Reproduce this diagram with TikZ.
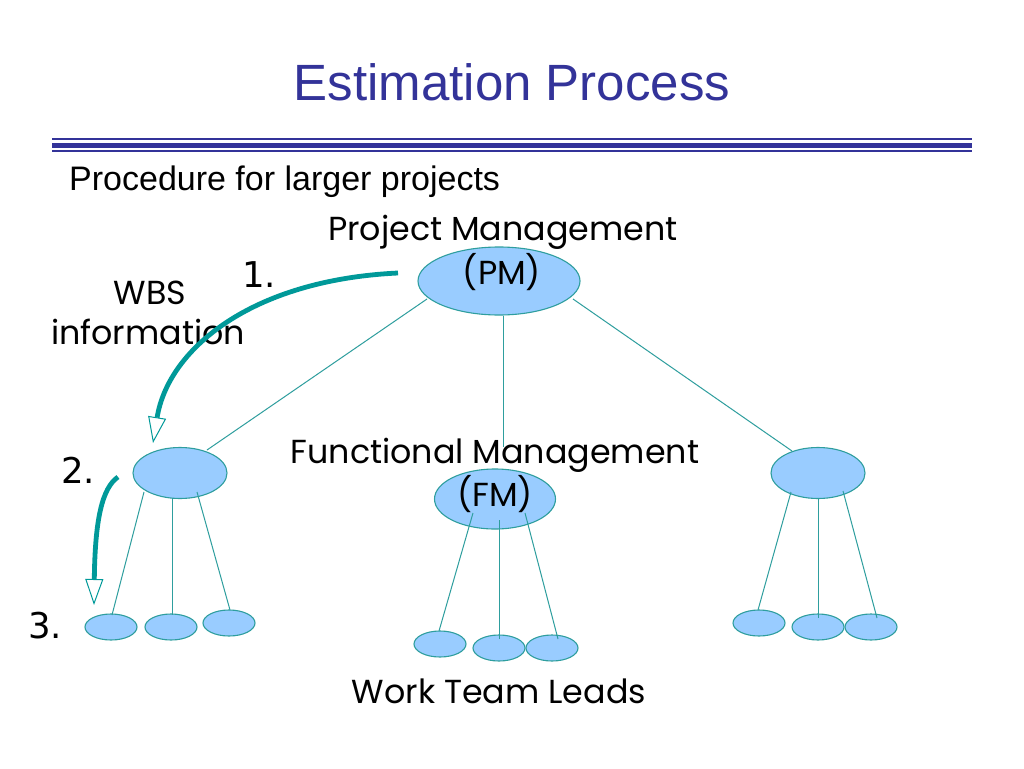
\documentclass[tikz,border=0pt]{standalone}
\usepackage{fontspec}
\setmainfont{Liberation Sans}
\newfontfamily\gothic{Poppins}
\newfontfamily\verd{DejaVu Sans}
\usetikzlibrary{arrows.meta,shapes.geometric,calc}
\definecolor{titleblue}{HTML}{333399}
\definecolor{ellfill}{HTML}{99CCFF}
\definecolor{tealline}{HTML}{2E9E9E}
\definecolor{arrowteal}{HTML}{009999}
\begin{document}
\begin{tikzpicture}[x=1pt,y=-1pt,
  ell/.style n args={2}{ellipse, draw=tealline, fill=ellfill, line width=1.1pt, inner sep=0pt, minimum width=#1, minimum height=#2},
  big/.style={ell={162pt}{68pt}},
  mid/.style={ell={94pt}{51pt}},
  fmell/.style={ell={121pt}{60pt}},
  small/.style={ell={52pt}{26pt}},
  conn/.style={draw=tealline, line width=1pt},
  bigarrow/.style={draw=arrowteal, line width=4.8pt,
    -{Triangle[length=26pt, width=18pt, line width=1pt, fill=white]}},
  gtext/.style={font=\gothic\fontsize{33.3}{40}\selectfont, inner sep=0pt},
  numtext/.style={font=\verd\fontsize{35.5}{42}\selectfont, inner sep=0pt}
]
\fill[white] (0,0) rectangle (1024,768);
\useasboundingbox (0,0) rectangle (1024,768);

% title
\node[font=\fontsize{51}{61}\selectfont, text=titleblue, inner sep=0pt] (title) at (512,82) {Estimation Process};
\fill[titleblue] (52,137.5) rectangle (972,139.5);
\fill[titleblue] (52,142.5) rectangle (972,147.5);
\fill[titleblue] (52,149.5) rectangle (972,151.5);

\node[font=\fontsize{34}{41}\selectfont, anchor=west, inner sep=0pt] (proc) at (69,182) {Procedure for larger projects};

% ellipses
\node[big] (pm) at (499,281) {};
\node[mid] (lm) at (180,473) {};
\node[fmell] (fm) at (495,499) {};
\node[mid] (rm) at (818,473) {};
\node[small] (ls1) at (111,627) {};
\node[small] (ls2) at (171,627) {};
\node[small] (ls3) at (229,623) {};
\node[small] (ms1) at (440,644) {};
\node[small] (ms2) at (499,648) {};
\node[small] (ms3) at (552,648) {};
\node[small] (rs1) at (759,623) {};
\node[small] (rs2) at (818,627) {};
\node[small] (rs3) at (871,627) {};

% texts
\node[gtext] (pmt) at (503,232) {Project Management};
\node[gtext] (pml) at (502,272) {(PM)};
\node[gtext] (fmt) at (495,455) {Functional Management};
\node[gtext] (fml) at (495,494) {(FM)};
\node[gtext] (wtl) at (499,691) {Work Team Leads};
\node[gtext] (wbs) at (150,293) {WBS};
\node[gtext] (info) at (148,332) {information};
\node[numtext] (n1) at (259,275) {1.};
\node[numtext] (n2) at (78,470) {2.};
\node[numtext] (n3) at (45,626) {3.};

% connectors
\draw[conn] ([shift={(-72,18)}]pm.center) -- ([shift={(27,-23)}]lm.center);
\draw[conn] ([shift={(74,18)}]pm.center) -- ([shift={(-26,-22)}]rm.center);
\draw[conn] ([shift={(4,0)}]pm.south) -- ([shift={(8,-8)}]fmt.center);

\draw[conn] ([shift={(-36,19)}]lm.center) -- ([shift={(1,-12)}]ls1.center);
\draw[conn] ([shift={(-8,25)}]lm.center) -- ([shift={(1,-12)}]ls2.center);
\draw[conn] ([shift={(17,19)}]lm.center) -- ([shift={(1,-13)}]ls3.center);

\draw[conn] ([shift={(-22,14)}]fm.center) -- ([shift={(-1,-13)}]ms1.center);
\draw[conn] ([shift={(4,21)}]fm.center) -- ([shift={(0,-9)}]ms2.center);
\draw[conn] ([shift={(30,14)}]fm.center) -- ([shift={(6,-9)}]ms3.center);

\draw[conn] ([shift={(-27,19)}]rm.center) -- ([shift={(-1,-13)}]rs1.center);
\draw[conn] ([shift={(0,26)}]rm.center) -- ([shift={(0,-9)}]rs2.center);
\draw[conn] ([shift={(25,18)}]rm.center) -- ([shift={(6,-9)}]rs3.center);

% thick arrows
\draw[bigarrow] ([shift={(-101,-8)}]pm.center) .. controls (250,280) and (168,350) .. ([shift={(-27,-30)}]lm.center);
\draw[bigarrow] ([shift={(-62,4)}]lm.center) .. controls (102,488) and (95,520) .. ([shift={(-17,-22)}]ls1.center);
\end{tikzpicture}
\end{document}
